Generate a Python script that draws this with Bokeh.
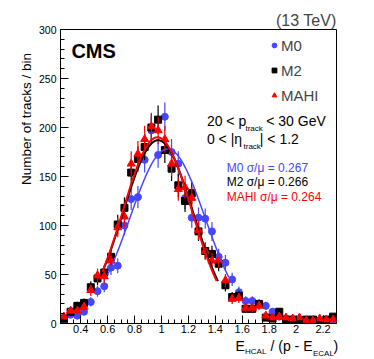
import numpy as np
from bokeh.plotting import figure
from bokeh.layouts import row, column
from bokeh.models import (Label, Legend, LegendItem, ColumnDataSource, Range1d,
                          SingleIntervalTicker, CustomJSTickFormatter)
from bokeh.embed import file_html
from bokeh.resources import INLINE

# ---------------- data ----------------
bin_centers = [0.275, 0.325, 0.375, 0.425, 0.475, 0.525, 0.575, 0.625, 0.675, 0.725,
               0.775, 0.825, 0.875, 0.925, 0.975, 1.025, 1.075, 1.125, 1.175, 1.225,
               1.275, 1.325, 1.375, 1.425, 1.475, 1.525, 1.575, 1.625, 1.675, 1.725,
               1.775, 1.825, 1.875, 1.925, 1.975, 2.025, 2.075, 2.125, 2.175, 2.225,
               2.275]
m0_counts = [3, 9, 8, 12, 22, 33, 38, 57, 59, 100,
             127, 129, 167, 197, 172, 211, 175, 163, 128, 108,
             108, 107, 94, 68, 62, 45, 32, 23, 23, 20,
             18, 12, 7, 5, 4, 4, 4, 4, 2, 4,
             4]
m2_counts = [5, 12, 18, 21, 37, 46, 52, 68, 101, 118,
             154, 168, 180, 200, 208, 177, 158, 141, 125, 133,
             94, 74, 71, 61, 39, 27, 28, 15, 15, 20,
             6, 5, 12, 4, 4, 3, 4, 4, 2, 4,
             7]
mahi_counts = [7, 13, 13, 17, 34, 49, 48, 64, 98, 109,
               163, 173, 188, 201, 197, 188, 163, 137, 139, 128,
               95, 74, 64, 65, 44, 25, 26, 16, 16, 18,
               8, 6, 7, 6, 5, 6, 3, 3, 5, 4,
               4]

# Gaussian fit results (amplitude, mean, sigma, fit range)
m0_fit = dict(amp=178.0, mean=1.045, sigma=0.279, lo=0.60, hi=1.50)
m2_fit = dict(amp=187.0, mean=0.975, sigma=0.260, lo=0.56, hi=1.42)
mahi_fit = dict(amp=190.0, mean=0.970, sigma=0.256, lo=0.56, hi=1.41)

x_ticks_major = 0.2
y_ticks_major = 50

BLUE = "#4646ff"
BLACK = "#000000"
RED = "#ff0000"
FONT = "Liberation Sans"

# window layout: [left strip | main plot] above a full-width bottom strip
LEFT_W = 35
MAIN_W, MAIN_H = 335, 337
BOT_H = 21
TOTAL_W = LEFT_W + MAIN_W

# ---------------- main figure ----------------
p = figure(width=MAIN_W, height=MAIN_H, output_backend="svg", toolbar_location=None,
           x_range=Range1d(0.25, 2.3), y_range=Range1d(0, 300),
           min_border_left=22, min_border_right=34, min_border_top=29, min_border_bottom=14)
p.background_fill_color = "white"
p.border_fill_color = "white"
p.outline_line_color = "black"
p.outline_line_width = 1
p.grid.visible = False

p.title.text = "(13 TeV)"
p.title.align = "right"
p.title.text_font = FONT
p.title.text_font_size = "16px"
p.title.text_font_style = "normal"
p.title.standoff = 1

p.xaxis.ticker = SingleIntervalTicker(interval=x_ticks_major, num_minor_ticks=4)
p.yaxis.ticker = SingleIntervalTicker(interval=y_ticks_major, num_minor_ticks=5)
p.xaxis.formatter = CustomJSTickFormatter(code="return tick.toFixed(1).replace(/\\.0$/, '');")
for ax in (p.xaxis[0], p.yaxis[0]):
    ax.major_tick_in = 8
    ax.major_tick_out = 0
    ax.minor_tick_in = 4
    ax.minor_tick_out = 0
    ax.axis_line_color = "black"
    ax.major_tick_line_color = "black"
    ax.minor_tick_line_color = "black"
    ax.major_label_text_font = FONT
    ax.major_label_text_color = "black"
p.xaxis.major_label_text_font_size = "11px"
p.yaxis.major_label_text_font_size = "10.5px"
p.yaxis.major_label_standoff = 4
p.xaxis.major_label_standoff = 1


def add_series(counts, color, marker, size):
    y = np.array(counts, dtype=float)
    err = np.sqrt(y)
    src = ColumnDataSource(dict(x=bin_centers, y=y, lo=y - err, hi=y + err))
    p.segment(x0="x", x1="x", y0="lo", y1="hi", source=src, line_color=color, line_width=1.2)
    r = p.scatter(x="x", y="y", source=src, marker=marker, size=size,
                  fill_color=color, line_color=color)
    return r


r_m0 = add_series(m0_counts, BLUE, "circle", 7)
r_m2 = add_series(m2_counts, BLACK, "square", 7)
r_mahi = add_series(mahi_counts, RED, "triangle", 8)


def add_fit(fit, color, width):
    xs = np.linspace(fit["lo"], fit["hi"], 200)
    ys = fit["amp"] * np.exp(-0.5 * ((xs - fit["mean"]) / fit["sigma"]) ** 2)
    p.line(xs, ys, line_color=color, line_width=width)


add_fit(m0_fit, BLUE, 1.5)
add_fit(m2_fit, BLACK, 2)
add_fit(mahi_fit, RED, 2)

legend = Legend(items=[LegendItem(label="M0", renderers=[r_m0]),
                       LegendItem(label="M2", renderers=[r_m2]),
                       LegendItem(label="MAHI", renderers=[r_mahi])],
                location=(208, 218), orientation="vertical",
                glyph_width=12, glyph_height=20, spacing=5, padding=0, margin=0,
                label_standoff=1, label_text_font=FONT, label_text_font_size="15px",
                border_line_color=None, background_fill_alpha=0)
p.add_layout(legend)


def txt(fig, x, y, s, size, color="black", align="left", style="normal", angle=0):
    fig.add_layout(Label(x=x, y=y, text=s, text_font=FONT, text_font_size=f"{size}px",
                         text_color=color, text_align=align, text_baseline="middle",
                         text_font_style=style, angle=angle))


# texts inside the frame: (x, baseline) given in window pixels -> data coords of text middle
def dx(px):
    return 0.25 + (px - 57) / 136.1


def dy(py):
    return 300 - (py - 29) / 0.98


def ptxt(x, base, s, size, **kw):
    txt(p, dx(x), dy(base - 0.35 * size), s, size, **kw)


ptxt(68, 57, "CMS", 20, style="bold")

ptxt(205, 125, "20 < p", 14)
ptxt(244, 130.5, "track", 8)
ptxt(265, 125, "< 30 GeV", 14)
ptxt(205, 143, "0 < |\u03b7", 14)
ptxt(242, 148.5, "track", 8)
ptxt(258.5, 143, "| < 1.2", 14)

ptxt(225, 171.7, "M0 \u03c3/\u03bc = 0.267", 12, color=BLUE)
ptxt(225, 186, "M2 \u03c3/\u03bc = 0.266", 12, color=BLACK)
ptxt(225, 200.3, "MAHI \u03c3/\u03bc = 0.264", 12, color=RED)


# ---------------- strips for axis titles (their data coords = window pixels) ----------------
def strip(w, h, x0, y0):
    f = figure(width=w, height=h, output_backend="svg", toolbar_location=None, title=None,
               x_range=Range1d(x0, x0 + w), y_range=Range1d(y0 + h, y0),
               min_border_left=0, min_border_right=0, min_border_top=0, min_border_bottom=0,
               min_border=0, x_axis_location=None, y_axis_location=None)
    f.outline_line_color = None
    f.grid.visible = False
    f.background_fill_color = "white"
    f.border_fill_color = "white"
    return f


q_left = strip(LEFT_W, MAIN_H, 0, 0)
# rotated title: baseline at window x=30.5, text ends at window y=27
txt(q_left, 30.5 - 0.35 * 13.5, 27, "Number of tracks / bin", 13.5,
    align="right", angle=np.pi / 2)

q_bot = strip(TOTAL_W, BOT_H, 0, MAIN_H)


def btxt(x, base, s, size):
    txt(q_bot, x, base - 0.35 * size, s, size)


btxt(235, 350, "E", 14)
btxt(244.5, 354, "HCAL", 8)
btxt(270, 350, "/ (p - E", 14)
btxt(312.5, 355.5, "ECAL", 8)
btxt(333, 350, ")", 14)

layout = column(row(q_left, p, spacing=0), q_bot, spacing=0)
open("out.html", "w").write(file_html(layout, INLINE))
